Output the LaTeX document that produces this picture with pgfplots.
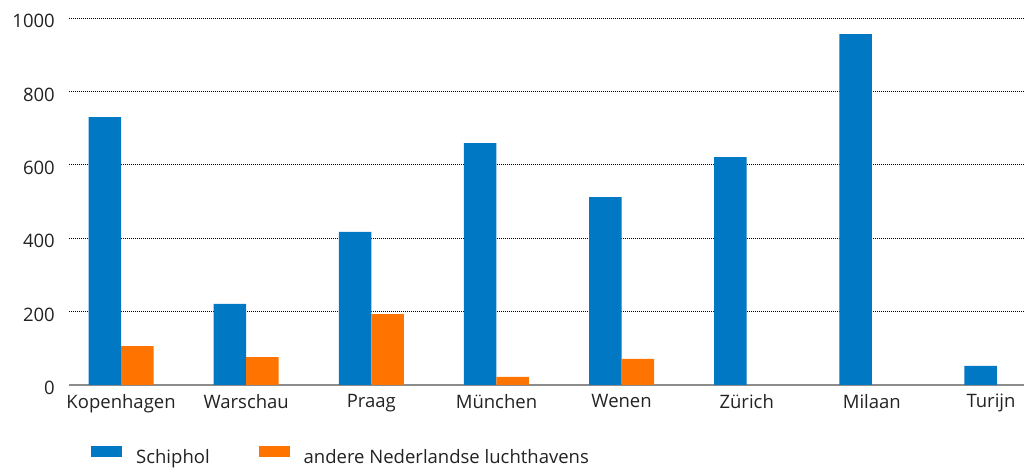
\documentclass[border=0pt]{standalone}
\usepackage{pgfplots}
\pgfplotsset{compat=1.18}
\usepackage{fontspec}
\setmainfont{Open Sans}
\definecolor{cblue}{RGB}{0,120,196}
\definecolor{corange}{RGB}{255,116,0}
\definecolor{ctext}{RGB}{34,34,34}
\definecolor{cline}{RGB}{140,140,140}
\begin{document}
\begin{tikzpicture}[x=1pt,y=1pt]
\path[use as bounding box] (0,0) rectangle (1024,468);
\begin{axis}[
  at={(69pt,83pt)}, anchor=south west,
  scale only axis, width=955pt, height=367pt,
  xmin=-0.416, xmax=7.216, ymin=0, ymax=1000,
  ybar=0pt, bar width=32.5pt,
  axis x line*=bottom, axis y line*=left,
  y axis line style={draw=none},
  x axis line style={cline, line width=1.6pt},
  major tick length=0pt,
  xtick={0,1,2,3,4,5,6,7},
  xticklabels={Kopenhagen,Warschau,Praag,München,Wenen,Zürich,Milaan,Turijn\kern12pt\null},
  ytick={0,200,400,600,800,1000},
  yticklabels={0,200,400,600,800,1000},
  ymajorgrids,
  major grid style={black, line width=0.9pt, dash pattern=on 0.9pt off 1.1pt},
  tick label style={font=\fontsize{18.5}{20}\selectfont, text=ctext},
  yticklabel style={anchor=east, inner sep=0pt, xshift=-14pt, yshift=-3pt},
  xticklabel style={anchor=north, inner sep=0pt, yshift=-9pt},
  legend columns=2,
  legend style={at={(axis description cs:0.023,-0.195)}, anchor=west,
    draw=none, fill=none, inner sep=0pt,
    font=\fontsize{18.5}{20}\selectfont, text=ctext,
    /tikz/every even column/.append style={column sep=47pt},
    /tikz/every odd column/.append style={column sep=12pt}},
  legend cell align=left,
]
\addplot[fill=cblue, draw=none,
  legend image code/.code={\fill[cblue] (0pt,1pt) rectangle (31pt,12pt);}]
  coordinates {(0,730) (1,221) (2,417) (3,659) (4,512) (5,621) (6,956) (7,52)};
\addlegendentry{Schiphol}
\addplot[fill=corange, draw=none,
  legend image code/.code={\fill[corange] (0pt,1pt) rectangle (31pt,12pt);}]
  coordinates {(0,106) (1,76) (2,193) (3,22) (4,71)};
\addlegendentry{andere Nederlandse luchthavens}
\end{axis}
\end{tikzpicture}
\end{document}
